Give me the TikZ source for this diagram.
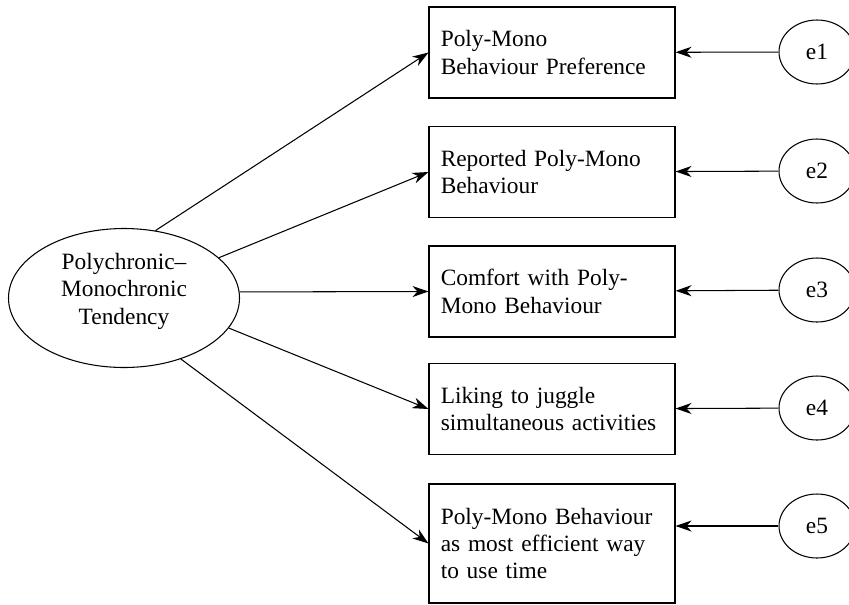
\documentclass[tikz,border=0pt]{standalone}
\usepackage{fontspec}
\setmainfont{Liberation Serif}
\usetikzlibrary{shapes.geometric, positioning, arrows.meta}

\begin{document}
\begin{tikzpicture}[
    font=\fontsize{13.3}{15.6}\selectfont,
    latent/.style={draw, ellipse, line width=0.6pt, minimum width=4.62cm, minimum height=2.78cm, inner sep=0pt, text depth=0.38cm, align=center},
    indic/.style={draw, rectangle, line width=0.6pt, minimum width=4.92cm, minimum height=1.82cm, text width=4.45cm, inner xsep=0.235cm, align=left},
    err/.style={draw, ellipse, line width=0.6pt, minimum width=1.52cm, minimum height=1.28cm, inner sep=0pt},
    arrow/.style={-{Stealth[length=3.2mm, width=2.2mm, inset=1mm]}, line width=0.6pt}
]
    \useasboundingbox (0,0) rectangle (16.98,12.08);

    \node[latent] (pmt) at (2.48, 6.12) {Polychronic--\\Monochronic\\Tendency};

    \node[indic] (pref) at (11.04, 11.03) {Poly-Mono\\Behaviour Preference};
    \node[indic] (report) at (11.04, 8.64) {Reported Poly-Mono\\Behaviour};
    \node[indic] (comfort) at (11.04, 6.25) {Comfort with Poly-\\Mono Behaviour};
    \node[indic] (juggle) at (11.04, 3.90) {Liking to juggle\\simultaneous activities};
    \node[indic, minimum height=2.38cm] (effic) at (11.04, 1.21) {Poly-Mono Behaviour\\as most efficient way\\to use time};

    \node[err] (e1) at (16.34, 11.04) {e1};
    \node[err] (e2) at (16.34, 8.66) {e2};
    \node[err] (e3) at (16.34, 6.28) {e3};
    \node[err] (e4) at (16.34, 3.92) {e4};
    \node[err] (e5) at (16.34, 1.56) {e5};

    \draw[arrow] (pmt.65) -- (pref.west);
    \draw[arrow] (pmt.23) -- (report.west);
    \draw[arrow] (pmt.3) -- (comfort.west);
    \draw[arrow] (pmt.-16) -- (juggle.west);
    \draw[arrow] (pmt.-47) -- (effic.west);

    \draw[arrow] (e1) -- (pref);
    \draw[arrow] (e2) -- (report);
    \draw[arrow] (e3) -- (comfort);
    \draw[arrow] (e4) -- (juggle);
    \draw[arrow] (e5.west) -- (e5 -| effic.east);
\end{tikzpicture}
\end{document}
